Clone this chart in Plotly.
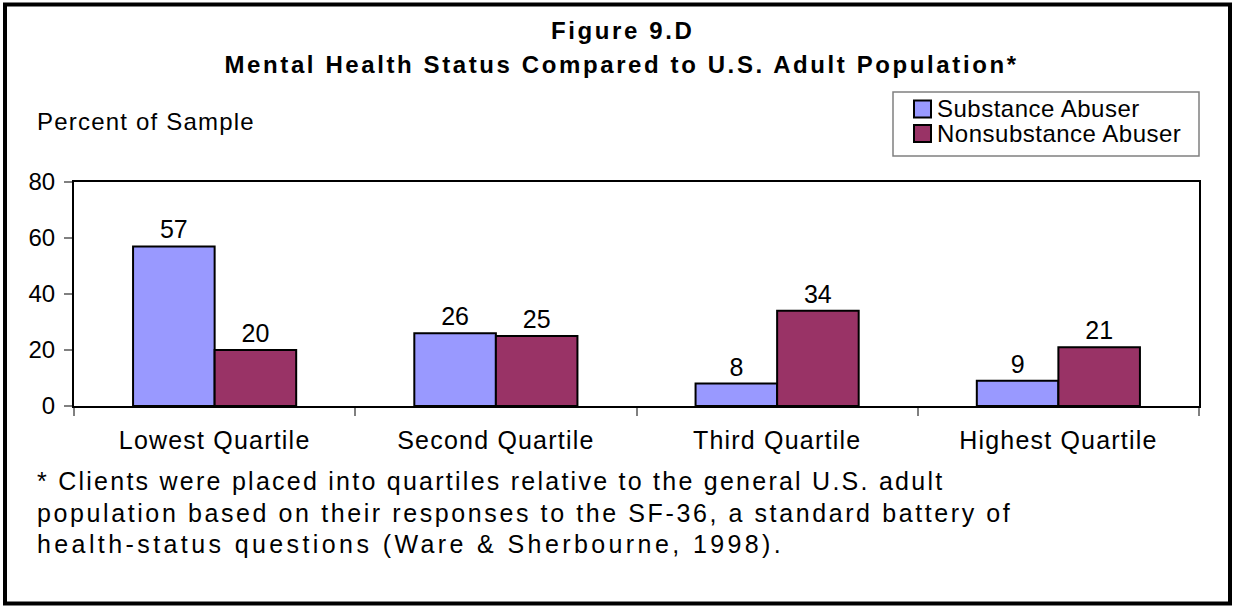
import json
import plotly.graph_objects as go

categories = ["Lowest Quartile", "Second Quartile", "Third Quartile", "Highest Quartile"]
series_names = ["Substance Abuser", "Nonsubstance Abuser"]
substance = [57, 26, 8, 9]
nonsubstance = [20, 25, 34, 21]
y_ticks = [0, 20, 40, 60, 80]
colors = ["#9999FF", "#993366"]
title_lines = ["Figure 9.D", "Mental Health Status Compared to U.S. Adult Population*"]
y_title = "Percent of Sample"
footnote = ["* Clients were placed into quartiles relative to the general U.S. adult",
            "population based on their responses to the SF-36, a standard battery of",
            "health-status questions (Ware & Sherbourne, 1998)."]

W, H = 1235, 607
L, R, T, B = 74, 1199, 182, 406
FONT = "Arial, Liberation Sans, sans-serif"

def px(x):
    return (x - L) / (R - L)

def py(y):
    return (B - y) / (B - T)

fig = go.Figure()
for name, vals, col in zip(series_names, [substance, nonsubstance], colors):
    fig.add_trace(go.Bar(
        x=categories, y=vals, name=name,
        marker=dict(color=col, line=dict(color="black", width=2)),
        text=[str(v) for v in vals], textposition="outside",
        textfont=dict(size=25, color="black", family=FONT),
        cliponaxis=False, showlegend=False,
    ))

shapes = [
    dict(type="rect", xref="paper", yref="paper",
         x0=px(5), x1=px(1230), y0=py(4.5), y1=py(603.5),
         line=dict(color="black", width=4), fillcolor="rgba(0,0,0,0)", layer="below"),
    dict(type="rect", xref="paper", yref="paper",
         x0=px(893), x1=px(1199), y0=py(92), y1=py(156),
         line=dict(color="#808080", width=1.5), fillcolor="white"),
]
annotations = [
    dict(text="<b>" + title_lines[0] + "</b>", x=px(622), y=py(30), xref="paper", yref="paper",
         showarrow=False, xanchor="center", yanchor="middle", align="center",
         font=dict(size=24, family=FONT, color="black")),
    dict(text="<b>" + title_lines[1] + "</b>", x=px(622), y=py(64),
         xref="paper", yref="paper", showarrow=False, xanchor="center", yanchor="middle", align="center",
         font=dict(size=24, family=FONT, color="black")),
    dict(text=y_title, x=px(35), y=py(121), xref="paper", yref="paper",
         showarrow=False, xanchor="left", yanchor="middle", align="left",
         font=dict(size=24, family=FONT, color="black")),
]
# manual legend
for i, (name, col) in enumerate(zip(series_names, colors)):
    cy = 109 + i * 24.5
    shapes.append(dict(type="rect", xref="paper", yref="paper",
                       x0=px(914), x1=px(931), y0=py(cy - 8.5), y1=py(cy + 8.5),
                       line=dict(color="black", width=2), fillcolor=col))
    annotations.append(dict(text=name, x=px(935), y=py(cy), xref="paper", yref="paper",
                            showarrow=False, xanchor="left", yanchor="middle", align="left",
                            font=dict(size=24, family=FONT, color="black")))

for i, line in enumerate(footnote):
    annotations.append(dict(text=line, x=px(35), y=py(481 + i * 31.5), xref="paper", yref="paper",
                            showarrow=False, xanchor="left", yanchor="middle", align="left",
                            font=dict(size=25, family=FONT, color="black")))

fig.update_layout(
    width=W, height=H,
    margin=dict(l=L, r=W - R, t=T, b=H - B, pad=0),
    paper_bgcolor="white", plot_bgcolor="white",
    barmode="group", bargap=0.42, bargroupgap=0,
    font=dict(family=FONT, size=24, color="black"),
    shapes=shapes, annotations=annotations,
    showlegend=False,
)
fig.update_xaxes(
    showline=True, linecolor="black", linewidth=2, mirror=True,
    ticks="outside", ticklen=8, tickcolor="#808080", tickwidth=2,
    tickson="boundaries", showgrid=False,
    tickfont=dict(size=25, family=FONT, color="black"),
    ticklabelstandoff=11,
)
fig.update_yaxes(
    range=[0, 80], tickvals=y_ticks,
    showline=True, linecolor="black", linewidth=2, mirror=True,
    ticks="outside", ticklen=8, tickcolor="#808080", tickwidth=2,
    showgrid=False, zeroline=False,
    tickfont=dict(size=24, family=FONT, color="black"),
    ticklabelstandoff=4,
)

# letter spacing (px) to mimic the wide text rendering of the original
spacing = {title_lines[0]: 2.6, title_lines[1]: 2.6, y_title: 1.2}
for s in series_names:
    spacing[s] = 0.5
for c in categories:
    spacing[c] = 1.2
spacing[footnote[0]] = 2.25
spacing[footnote[1]] = 2.6
spacing[footnote[2]] = 3.4

post = (
    "document.body.style.margin='0';"
    "var sp=" + json.dumps(spacing) + ";"
    "document.querySelectorAll('text').forEach(function(t){"
    "var s=t.textContent; if(Object.prototype.hasOwnProperty.call(sp,s)){t.style.letterSpacing=sp[s]+'px';}});"
)

fig.write_html("out.html", post_script=post, config={"displayModeBar": False})
